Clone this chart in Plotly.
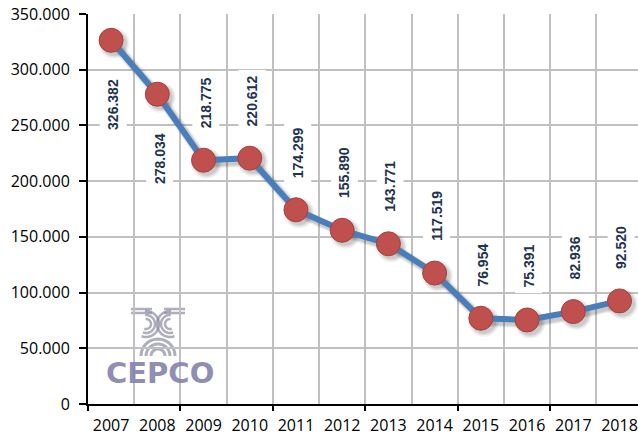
import math
import plotly.graph_objects as go

years = [2007, 2008, 2009, 2010, 2011, 2012, 2013, 2014, 2015, 2016, 2017, 2018]
values = [326382, 278034, 218775, 220612, 174299, 155890, 143771, 117519, 76954, 75391, 82936, 92520]
year_labels = [str(y) for y in years]
y_ticks = [0, 50000, 100000, 150000, 200000, 250000, 300000, 350000]

LINE = "#4a7ebb"
MARK = "#c0504d"
LABEL = "#1f3250"
GRID = "#c0c0c0"
FONT = "Open Sans"

W, H = 638, 441
ML, MT, MB = 88, 14, 37
PW, PH = W - ML, H - MT - MB
XR = [2006.5, 2018.4]
YR = [0, 350000]
px_x = (XR[1] - XR[0]) / PW
px_y = (YR[1] - YR[0]) / PH
SH = 3  # shadow offset in pixels

fig = go.Figure()

# soft drop shadow (same data on offset hidden axes x3/y3)
for sz, lw, op in [(31, 11, 0.05), (28, 9, 0.07), (25, 7, 0.09)]:
    fig.add_trace(go.Scatter(
        x=years, y=values, mode="lines+markers", xaxis="x3", yaxis="y3",
        line=dict(color=f"rgba(0,0,0,{op})", width=lw),
        marker=dict(size=sz, color=f"rgba(0,0,0,{op})"),
        hoverinfo="skip", showlegend=False,
    ))

# main series on hidden axes x4/y4 with the same ranges as the visible axes
fig.add_trace(go.Scatter(
    x=years, y=values, mode="lines+markers", xaxis="x4", yaxis="y4",
    line=dict(color=LINE, width=6),
    marker=dict(size=24, color=MARK, line=dict(color="#a5403d", width=1)),
    hoverinfo="skip", showlegend=False,
))

ann = []
for i, (yr, v) in enumerate(zip(years, values)):
    txt = f"{v:,}".replace(",", ".")
    below = i < 2
    ann.append(dict(
        x=yr, y=v, xref="x", yref="y", text=f"<b>{txt}</b>", showarrow=False,
        textangle=-90, xanchor="center",
        yanchor="top" if below else "bottom",
        yshift=-33 if below else 26, xshift=2,
        font=dict(family="Liberation Sans", size=14, color=LABEL),
        bgcolor="white", borderpad=5,
    ))


def pp(px, py):
    return (px - ML) / PW, (H - MB - py) / PH


ann.append(dict(
    x=pp(160, 373)[0], y=pp(160, 373)[1], xref="paper", yref="paper", text="<b>CEPCO</b>",
    showarrow=False, xanchor="center", yanchor="middle",
    font=dict(family="DejaVu Sans", size=29, color="#8582ad"), opacity=0.9,
))


def arc_path(cx, cy, r, a0, a1, n=24):
    pts = []
    for k in range(n + 1):
        a = math.radians(a0 + (a1 - a0) * k / n)
        x, y = pp(cx + r * math.cos(a), cy - r * math.sin(a))
        pts.append(f"{x:.5f},{y:.5f}")
    return "M" + " L".join(pts)


EMB = "rgba(140,140,160,0.7)"
shapes = []
for r in (7, 12, 17):
    shapes.append(dict(type="path", xref="paper", yref="paper", path=arc_path(158, 356, r, 0, 180),
                       line=dict(color=EMB, width=3), layer="below"))
for r in (5, 9, 13):
    shapes.append(dict(type="path", xref="paper", yref="paper", path=arc_path(146, 324, r, -110, 95),
                       line=dict(color=EMB, width=2.5), layer="below"))
    shapes.append(dict(type="path", xref="paper", yref="paper", path=arc_path(170, 324, r, 85, 290),
                       line=dict(color=EMB, width=2.5), layer="below"))
for dy in (0, 4):
    for xa, xb in ((131, 152), (164, 185)):
        shapes.append(dict(type="line", xref="paper", yref="paper",
                           x0=pp(xa, 309 + dy)[0], y0=pp(xa, 309 + dy)[1],
                           x1=pp(xb, 309 + dy)[0], y1=pp(xb, 309 + dy)[1],
                           line=dict(color=EMB, width=2.5), layer="below"))

fig.update_layout(
    width=W, height=H,
    margin=dict(l=ML, r=0, t=MT, b=MB),
    paper_bgcolor="white", plot_bgcolor="white",
    separators=",.",
    font=dict(family=FONT, size=16, color="black"),
    xaxis=dict(
        range=XR, automargin=False,
        tickmode="array", tickvals=years, ticktext=year_labels,
        ticks="", showgrid=False,
        minor=dict(tick0=2006.5, dtick=1, showgrid=True, gridcolor=GRID, gridwidth=1.5, ticks=""),
        showline=True, linecolor="black", linewidth=2,
        tickfont=dict(family=FONT, size=16),
        ticklabelstandoff=6,
        zeroline=False,
    ),
    xaxis2=dict(
        range=XR, overlaying="x", anchor="y", side="bottom", automargin=False,
        tickmode="linear", tick0=2006.5, dtick=2,
        ticks="outside", ticklen=6, tickwidth=2, tickcolor="black",
        showticklabels=False, showgrid=False, showline=False, zeroline=False,
    ),
    xaxis3=dict(
        range=[XR[0] - SH * px_x, XR[1] - SH * px_x], overlaying="x", anchor="y3",
        visible=False, automargin=False,
    ),
    yaxis3=dict(
        range=[YR[0] + SH * px_y, YR[1] + SH * px_y], overlaying="y", anchor="x3",
        visible=False, automargin=False,
    ),
    xaxis4=dict(range=XR, overlaying="x", anchor="y4", visible=False, automargin=False),
    yaxis4=dict(range=YR, overlaying="y", anchor="x4", visible=False, automargin=False),
    yaxis=dict(
        range=YR, tickmode="array", tickvals=y_ticks, automargin=False,
        tickformat=",d",
        ticks="outside", ticklen=7, tickwidth=2, tickcolor="black",
        showgrid=True, gridcolor=GRID, gridwidth=1.5,
        showline=True, linecolor="black", linewidth=2,
        tickfont=dict(family=FONT, size=16),
        ticklabelstandoff=6,
        zeroline=False,
    ),
    annotations=ann,
    shapes=shapes,
)

fig.add_trace(go.Scatter(x=[None], y=[None], xaxis="x2", showlegend=False, hoverinfo="skip"))

fig.write_html(
    "out.html",
    config={"displayModeBar": False},
    post_script="document.body.style.margin='0';document.body.style.overflow='hidden';",
)
